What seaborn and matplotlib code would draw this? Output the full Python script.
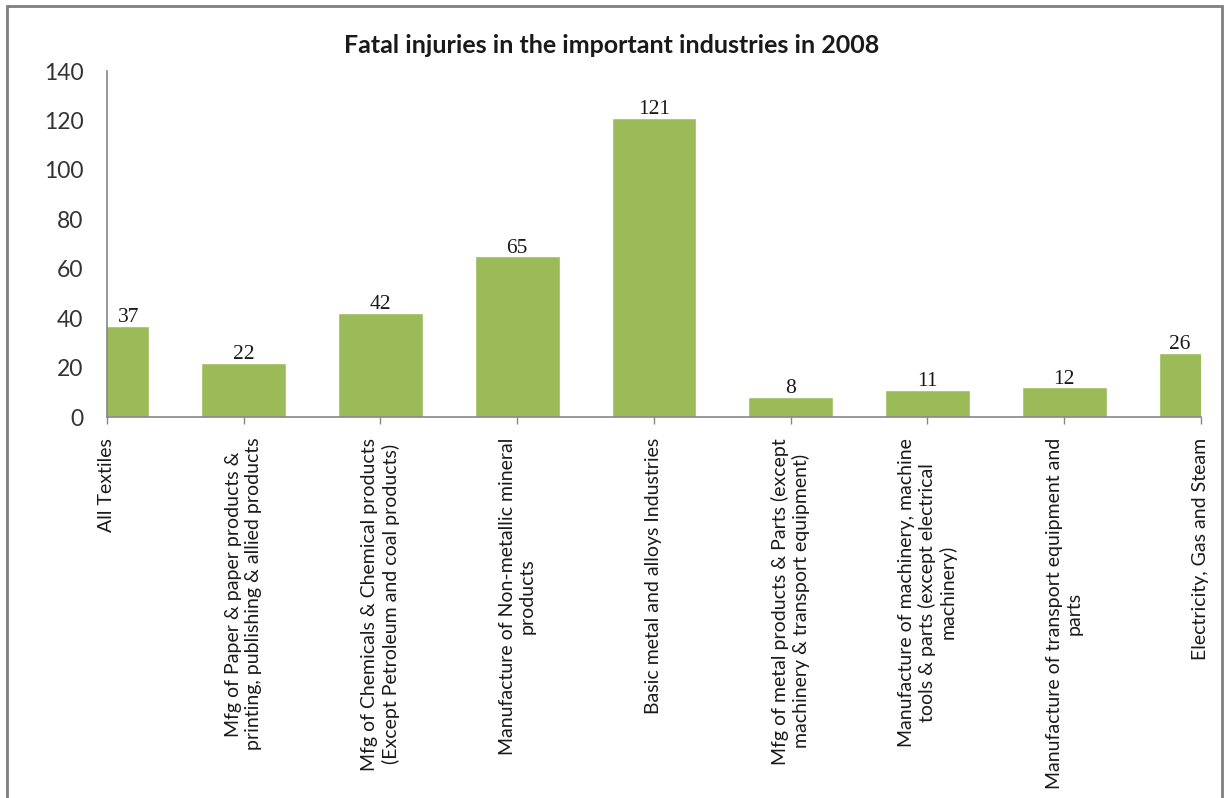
import numpy as np
import pandas as pd
import matplotlib
matplotlib.use("Agg")
import matplotlib.pyplot as plt
import seaborn as sns
from matplotlib.patches import Rectangle

# Data
industries = [
    "All Textiles",
    "Mfg of Paper & paper products &\nprinting, publishing & allied products",
    "Mfg of Chemicals & Chemical products\n(Except Petroleum and coal products)",
    "Manufacture of Non-metallic mineral\nproducts",
    "Basic metal and alloys Industries",
    "Mfg of metal products & Parts (except\nmachinery & transport equipment)",
    "Manufacture of machinery, machine\ntools & parts (except electrical\nmachinery)",
    "Manufacture of transport equipment and\nparts",
    "Electricity, Gas and Steam",
]
fatal_injuries = [37, 22, 42, 65, 121, 8, 11, 12, 26]
y_ticks = [0, 20, 40, 60, 80, 100, 120, 140]

df = pd.DataFrame({"Industry": industries, "Fatal injuries": fatal_injuries})

sns.set_style("white")
plt.rcParams["font.family"] = ["Lato", "DejaVu Sans"]

bar_color = "#9BBB59"
bar_width = 0.62

fig = plt.figure(figsize=(12.24, 7.98), dpi=100)
ax = fig.add_axes([0.0874, 0.4774, 0.8938, 0.4336])

sns.barplot(data=df, x="Industry", y="Fatal injuries", color=bar_color,
            width=bar_width, saturation=1, ax=ax)

# Excel-style: first and last bars sit on the axis edges
n = len(industries)
ax.set_xlim(0, n - 1)
ax.set_ylim(0, 140)
ax.set_yticks(y_ticks)

# value labels at the centre of the visible part of each bar
for i, v in enumerate(fatal_injuries):
    x = i
    if i == 0:
        x = i + bar_width / 4
    elif i == n - 1:
        x = i - bar_width / 4
    ax.text(x, v - 0.5, str(v), ha="center", va="bottom", fontsize=15.5,
            family=["Liberation Serif", "DejaVu Serif"], color="#1a1a1a")

ax.set_xlabel("")
ax.set_ylabel("")
ax.set_xticks(range(n))
ax.set_xticklabels(industries, rotation=90, fontsize=14, color="#1a1a1a",
                   ha="center", va="top", multialignment="center",
                   linespacing=1.2)
ax.tick_params(axis="y", labelsize=16.5, labelcolor="#333333", length=0, pad=17)
ax.tick_params(axis="x", length=5, width=1, color="#868686", pad=10,
               direction="out", bottom=True)

for side in ["top", "right"]:
    ax.spines[side].set_visible(False)
for side in ["left", "bottom"]:
    ax.spines[side].set_color("#868686")
    ax.spines[side].set_linewidth(1.2)

fig.text(0.5, 0.943, "Fatal injuries in the important industries in 2008",
         ha="center", va="center", fontsize=18, fontweight="bold", color="#1a1a1a")

# chart area border
fig.patches.append(Rectangle((0.006, -0.1), 0.992, 1.093, transform=fig.transFigure,
                             fill=False, edgecolor="#7f7f7f", linewidth=2))

fig.savefig("out.png", dpi=100)
